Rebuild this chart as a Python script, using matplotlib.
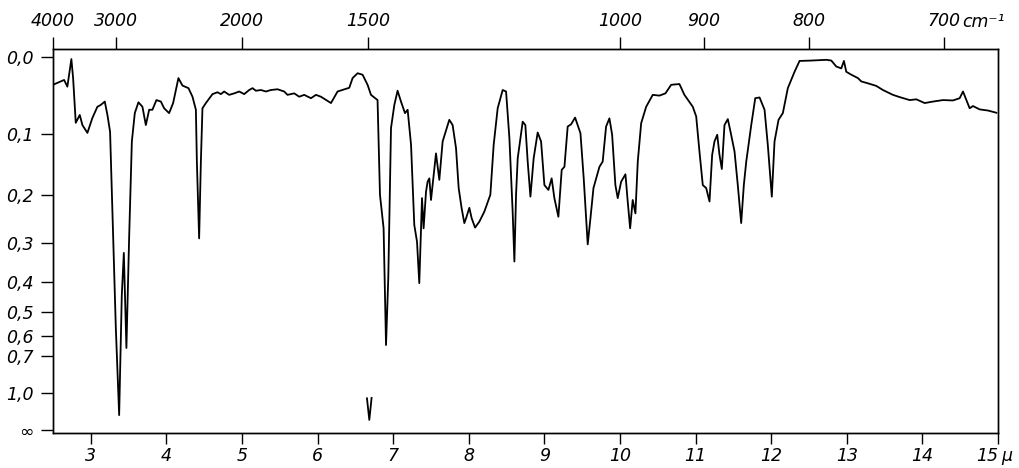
import matplotlib
matplotlib.use("Agg")
import matplotlib.pyplot as plt
import numpy as np

# wavelength (micron) and transmittance (%)
wavelength = [
    2.50, 2.647, 2.690, 2.743, 2.766, 2.801, 2.854, 2.889, 2.955, 3.021,
    3.087, 3.132, 3.185, 3.220, 3.255, 3.286, 3.331, 3.375, 3.410, 3.437,
    3.471, 3.507, 3.543, 3.582, 3.630, 3.683, 3.728, 3.772, 3.815, 3.868,
    3.927, 3.970, 4.036, 4.089, 4.159, 4.212, 4.292, 4.345, 4.390, 4.403,
    4.433, 4.456, 4.477, 4.522,
    4.610, 4.676, 4.721, 4.764, 4.830, 4.897, 4.963, 5.029, 5.095, 5.139,
    5.184, 5.250, 5.316, 5.382, 5.470, 5.558, 5.602, 5.691, 5.757, 5.823,
    5.912, 5.978, 6.044,
    6.177, 6.264, 6.419, 6.463, 6.529, 6.595, 6.661, 6.706, 6.793, 6.825,
    6.873, 6.905, 6.935, 6.971, 7.015, 7.058, 7.103, 7.156, 7.191, 7.236,
    7.279, 7.315, 7.345, 7.381, 7.402, 7.434, 7.455, 7.478, 7.500, 7.531,
    7.566, 7.610, 7.654, 7.742, 7.786, 7.831, 7.866, 7.905, 7.941, 7.964,
    8.007, 8.038, 8.083, 8.140, 8.206, 8.285, 8.329, 8.382, 8.448, 8.493,
    8.537, 8.580, 8.603, 8.625, 8.647, 8.713, 8.748, 8.779, 8.815, 8.858,
    8.911, 8.956, 9.000, 9.053, 9.096, 9.132, 9.185, 9.229, 9.265, 9.308,
    9.353, 9.406, 9.477, 9.520, 9.573, 9.609, 9.649, 9.728, 9.771, 9.816,
    9.860, 9.896, 9.939, 9.970, 10.015, 10.072, 10.102, 10.134, 10.168, 10.204,
    10.235, 10.280, 10.346, 10.433, 10.522, 10.601, 10.677, 10.786, 10.852, 10.963,
    11.008, 11.051, 11.095, 11.140, 11.184, 11.219, 11.250, 11.286, 11.316, 11.347,
    11.382, 11.426, 11.462, 11.515, 11.558, 11.603, 11.638, 11.670, 11.736, 11.789,
    11.846, 11.912, 11.955, 12.008, 12.044, 12.097, 12.154, 12.220, 12.309, 12.375,
    12.530, 12.729, 12.795, 12.861, 12.927, 12.962, 12.993, 13.060, 13.147, 13.192,
    13.279, 13.390, 13.478, 13.610, 13.699, 13.831, 13.920, 14.030, 14.140, 14.272,
    14.404, 14.493, 14.537, 14.582, 14.625, 14.669, 14.757, 14.867, 14.978,
]
transmittance = [
    92.6, 93.9, 92.1, 99.5, 94.4, 82.4, 84.5, 81.8, 79.7, 83.7,
    86.7, 87.2, 88.1, 84.5, 80.0, 58.6, 27.4, 4.0, 36.2, 47.5,
    22.0, 51.5, 77.4, 85.0, 87.9, 86.7, 81.8, 85.9, 85.9, 88.5,
    88.1, 86.3, 85.0, 87.7, 94.4, 92.4, 91.7, 89.4, 85.9, 72.0,
    51.4, 72.0, 86.3, 87.7,
    90.1, 90.6, 90.1, 90.8, 89.9, 90.3, 90.8, 90.1, 91.2, 91.7,
    91.0, 91.2, 90.8, 91.2, 91.4, 90.8, 89.9, 90.3, 89.4, 89.9,
    89.0, 89.9, 89.4,
    87.7, 90.8, 91.8, 94.4, 95.7, 95.3, 92.6, 89.9, 88.5, 63.1,
    54.1, 22.8, 40.8, 81.0, 87.2, 91.0, 88.1, 85.0, 85.9, 76.5,
    55.0, 50.5, 39.4, 62.2, 54.1, 63.9, 66.6, 67.5, 61.7, 67.5,
    74.2, 67.1, 77.4, 83.2, 81.8, 75.6, 64.9, 59.5, 55.5, 56.8,
    59.6, 56.8, 54.3, 55.9, 58.6, 63.1, 76.5, 86.3, 91.2, 90.8,
    78.3, 58.6, 45.2, 63.1, 72.9, 82.7, 81.8, 72.0, 62.6, 72.9,
    79.8, 77.4, 65.7, 64.4, 67.5, 62.2, 57.2, 69.8, 70.6, 81.4,
    82.0, 83.8, 79.6, 67.5, 49.8, 56.8, 64.9, 70.6, 72.0, 81.4,
    83.6, 79.2, 65.7, 62.2, 66.6, 68.6, 61.3, 54.1, 61.7, 58.1,
    72.0, 82.3, 86.7, 89.9, 89.7, 90.3, 92.6, 92.8, 89.9, 86.7,
    84.1, 74.7, 65.7, 64.9, 61.3, 73.8, 77.4, 79.2, 73.8, 70.0,
    81.8, 83.4, 80.0, 74.7, 65.7, 55.5, 65.7, 72.0, 81.8, 89.0,
    89.2, 85.9, 76.5, 62.6, 77.4, 83.2, 85.0, 91.7, 96.1, 99.0,
    99.1, 99.3, 99.1, 97.5, 97.0, 99.0, 96.1, 95.3, 94.4, 93.5,
    93.0, 92.3, 91.2, 89.9, 89.3, 88.5, 88.7, 87.7, 88.1, 88.5,
    88.4, 89.0, 90.8, 88.5, 86.3, 86.9, 86.0, 85.7, 85.1,
]

# small "V" mark drawn near 6.7 micron
mark_wavelength = [6.653, 6.684, 6.714]
mark_transmittance = [8.5, 2.7, 8.6]

# axis labels
absorbance_ticks = [0.0, 0.1, 0.2, 0.3, 0.4, 0.5, 0.6, 0.7, 1.0]
absorbance_labels = ["0,0", "0,1", "0,2", "0,3", "0,4", "0,5", "0,6", "0,7", "1,0"]
micron_ticks = [3, 4, 5, 6, 7, 8, 9, 10, 11, 12, 13, 14, 15]
micron_labels = ["3", "4", "5", "6", "7", "8", "9", "10", "11", "12", "13", "14", "15"]
wavenumber_ticks = [4000, 3000, 2000, 1500, 1000, 900, 800, 700]
wavenumber_labels = ["4000", "3000", "2000", "1500", "1000", "900", "800", "700"]

W, H = 1019, 468
fig = plt.figure(figsize=(W / 100, H / 100), dpi=100)
ax = fig.add_axes([53 / W, 1 - 433 / H, (998 - 53) / W, (433 - 49) / H])

font = dict(family="DejaVu Sans", style="italic", size=12.5)

ax.plot(wavelength, transmittance, color="black", lw=1.3, solid_joinstyle="round")
ax.plot(mark_wavelength, mark_transmittance, color="black", lw=1.3)

ax.set_xlim(2.5, 15)
ax.set_ylim(-0.8, 102.2)

# left axis: transmittance-linear, labelled in absorbance
yt = [100 * 10 ** (-a) for a in absorbance_ticks] + [0.0]
ax.set_yticks(yt)
ax.set_yticklabels(absorbance_labels + ["\u221e"], fontdict=font)
ax.tick_params(axis="y", direction="out", length=9, width=1.0, pad=5)

ax.set_xticks(micron_ticks)
xl = ax.set_xticklabels(micron_labels, fontdict=font)
xl[-1].set_horizontalalignment("right")
ax.tick_params(axis="x", direction="out", length=8, width=1.0, pad=2)

# top axis: wavenumbers
ax2 = ax.twiny()
ax2.set_xlim(ax.get_xlim())
ax2.set_xticks([1e4 / w for w in wavenumber_ticks])
ax2.set_xticklabels(wavenumber_labels, fontdict=font)
ax2.tick_params(axis="x", direction="out", length=9, width=1.0, pad=5)

for a in (ax, ax2):
    for s in a.spines.values():
        s.set_linewidth(1.0)

fig.text(962 / W, 1 - 22 / H, "cm\u207b\u00b9", ha="left", va="center", **font)
fig.text(1001 / W, 1 - 456 / H, "\u03bc", ha="left", va="center", **font)

fig.savefig("out.png", dpi=100)
